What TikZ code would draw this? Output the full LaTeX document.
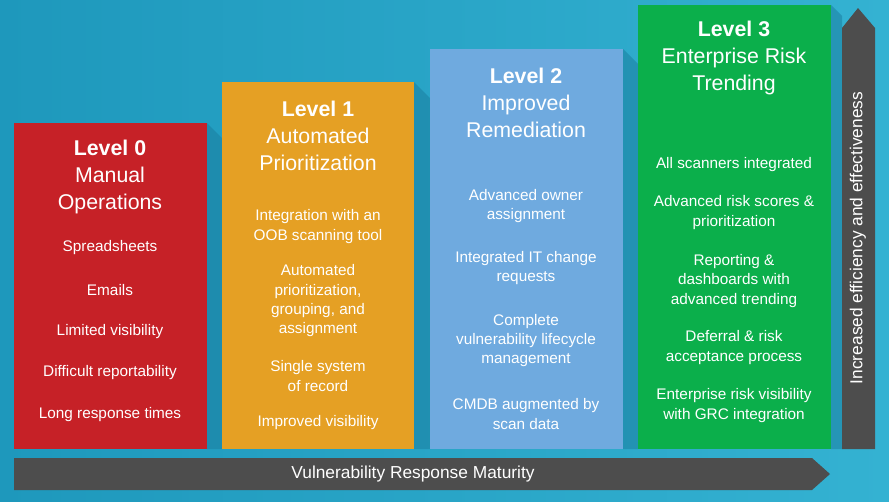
\documentclass[tikz,border=0pt]{standalone}
\usepackage{fontspec}
\setmainfont{Liberation Sans}
\usetikzlibrary{arrows.meta}
\definecolor{bgl}{HTML}{1E98BC}
\definecolor{bgr}{HTML}{34B2D2}
\definecolor{shd}{HTML}{1A7FA0}
\definecolor{lvred}{HTML}{C62127}
\definecolor{lvorange}{HTML}{E5A024}
\definecolor{lvblue}{HTML}{6FAADF}
\definecolor{lvgreen}{HTML}{0BAF4B}
\definecolor{darr}{HTML}{4D4D4D}
\tikzset{%
    lvl/.style={draw=none},
    ttl/.style={text=white, align=center, font=\fontsize{16}{20}\selectfont, inner sep=0pt},
    itm/.style={text=white, align=center, font=\fontsize{11.5}{14.5}\selectfont, inner sep=0pt},
    shad/.style={fill=shd, opacity=0.55},
}
\begin{document}
\begin{tikzpicture}[x=0.75pt, y=-0.75pt]
    \shade[left color=bgl, right color=bgr] (0,0) rectangle (889,501);
    \useasboundingbox (0,0) rectangle (889,501);
    % shadows
    \fill [shad] (207,123)--(222,138)--(222,449)--(207,449)--cycle;
    \fill [shad] (414,82)--(430,98)--(430,449)--(414,449)--cycle;
    \fill [shad] (623,49)--(638,64)--(638,449)--(623,449)--cycle;
    \fill [shad] (831,5)--(842,16)--(842,449)--(831,449)--cycle;
    % columns
    \fill [lvred] (14,123) rectangle (207,449);
    \fill [lvorange] (222,82) rectangle (414,449);
    \fill [lvblue] (430,49) rectangle (623,449);
    \fill [lvgreen] (638,5) rectangle (831,449);
    % arrows
    \fill [darr] (14,458)--(812,458)--(830,474)--(812,490)--(14,490)--cycle;
    \fill [darr] (842,449)--(842,28)--(858,8)--(875,28)--(875,449)--cycle;
    \node [itm, font=\fontsize{13}{16}\selectfont] (hor) at (413,474) {Vulnerability Response Maturity};
    \node [itm, font=\fontsize{13}{16}\selectfont, rotate=90] (ver) at (858,238) {Increased efficiency and effectiveness};
    % level 0
    \node [ttl] (t0) at (110,177) {\textbf{Level 0}\\Manual\\Operations};
    \node [itm] (a0) at (110,248) {Spreadsheets};
    \node [itm] (b0) at (110,290) {Emails};
    \node [itm] (c0) at (110,332) {Limited visibility};
    \node [itm] (d0) at (110,373) {Difficult reportability};
    \node [itm] (e0) at (110,415) {Long response times};
    % level 1
    \node [ttl] (t1) at (318,136) {\textbf{Level 1}\\Automated\\Prioritization};
    \node [itm] (a1) at (318,226.5) {Integration with an\\OOB scanning tool};
    \node [itm] (b1) at (318,301) {Automated\\prioritization,\\grouping, and\\assignment};
    \node [itm] (c1) at (318,376) {Single system\\of record};
    \node [itm] (d1) at (318,423) {Improved visibility};
    % level 2
    \node [ttl] (t2) at (526,103) {\textbf{Level 2}\\Improved\\Remediation};
    \node [itm] (a2) at (526,206) {Advanced owner\\assignment};
    \node [itm] (b2) at (526,268) {Integrated IT change\\requests};
    \node [itm] (c2) at (526,340.5) {Complete\\vulnerability lifecycle\\management};
    \node [itm] (d2) at (526,414) {CMDB augmented by\\scan data};
    % level 3
    \node [ttl] (t3) at (734,58) {\textbf{Level 3}\\Enterprise Risk\\Trending};
    \node [itm] (a3) at (734,165) {All scanners integrated};
    \node [itm] (b3) at (734,212.5) {Advanced risk scores \&\\prioritization};
    \node [itm] (c3) at (734,281) {Reporting \&\\dashboards with\\advanced trending};
    \node [itm] (d3) at (734,347.5) {Deferral \& risk\\acceptance process};
    \node [itm] (e3) at (734,405.5) {Enterprise risk visibility\\with GRC integration};
\end{tikzpicture}
\end{document}
